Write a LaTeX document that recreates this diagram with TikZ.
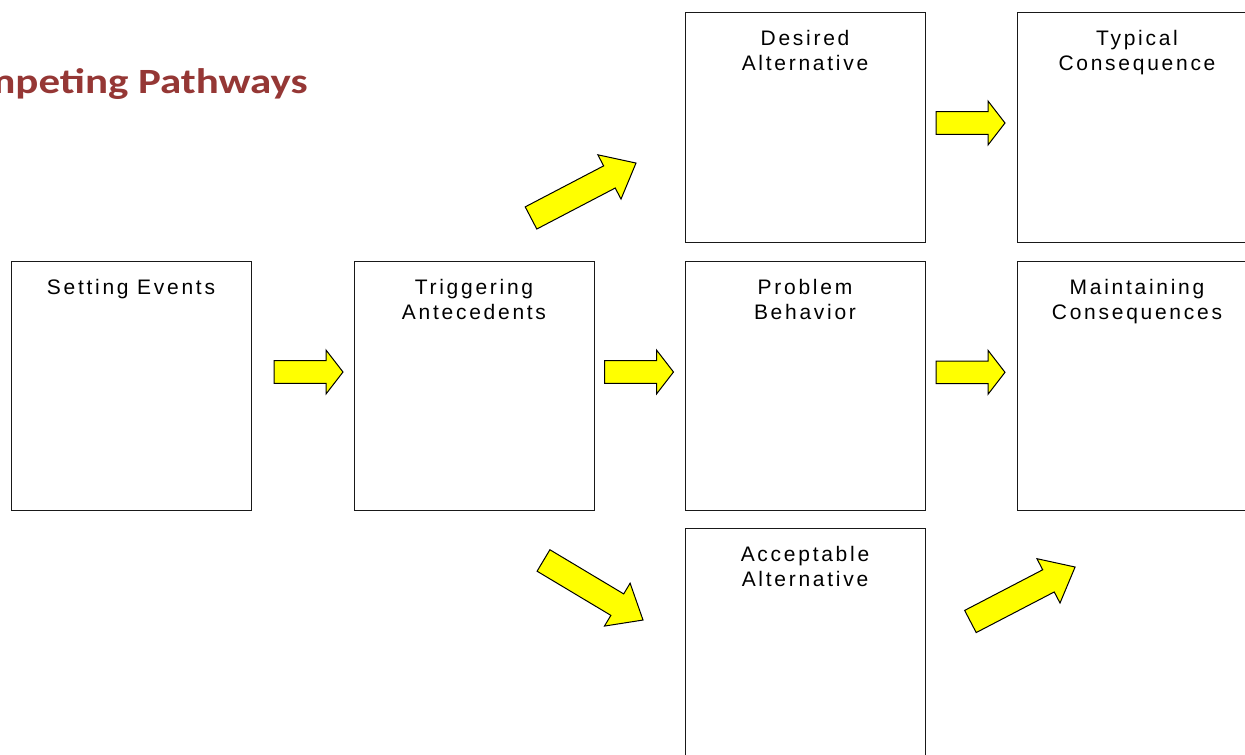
\documentclass[tikz,border=0pt]{standalone}
\usepackage{fontspec}
\setmainfont{Liberation Sans}
\newfontfamily\titlefont{Carlito}
\newfontfamily\boxfont[LetterSpace=13]{Liberation Sans}
\definecolor{titlered}{HTML}{953735}
\definecolor{arrowyellow}{HTML}{FFFF00}
\tikzset{
  box/.style={draw=black!90, line width=0.9pt, fill=white, inner sep=0pt, minimum width=240pt},
  lbl/.style={font=\boxfont\fontsize{21}{25}\selectfont, align=center, inner sep=0pt, anchor=north},
  blockarrow/.style={draw=black, line width=1pt, fill=arrowyellow, line join=miter},
}
\newcommand\blockarr[7]{%
  \draw[blockarrow, shift={(#1,#2)}, rotate=#3]
    ({-#4/2},{-#5}) -- ({#4/2-#7},{-#5}) -- ({#4/2-#7},{-#6}) -- ({#4/2},0)
    -- ({#4/2-#7},{#6}) -- ({#4/2-#7},{#5}) -- ({-#4/2},{#5}) -- cycle;}
\begin{document}
\begin{tikzpicture}[x=1pt,y=-1pt]
\useasboundingbox (0,0) rectangle (1245,755);
\clip (0,0) rectangle (1245,755);

% title
\node[font=\titlefont\bfseries\fontsize{35.5}{40}\selectfont, text=titlered,
      anchor=base east, inner sep=0pt, transform shape, xscale=1.21] (title) at (308,93) {Competing Pathways};

% boxes
\node[box, minimum height=249pt] (se) at (131,385.5) {};
\node[box, minimum height=249pt] (ta) at (474,385.5) {};
\node[box, minimum height=249pt] (pb) at (805,385.5) {};
\node[box, minimum height=249pt] (mc) at (1137,385.5) {};
\node[box, minimum height=230pt] (da) at (805,127) {};
\node[box, minimum height=230pt] (tc) at (1137,127) {};
\node[box, minimum height=242pt] (aa) at (805,649) {};

% labels
\node[lbl] (se-t) at ([yshift=-19pt]se.north) {Setting Events};
\node[lbl] (ta-t) at ([yshift=-19pt]ta.north) {Triggering\\Antecedents};
\node[lbl] (pb-t) at ([yshift=-19pt]pb.north) {Problem\\Behavior};
\node[lbl] (mc-t) at ([yshift=-19pt]mc.north) {Maintaining\\Consequences};
\node[lbl] (da-t) at ([yshift=-19pt]da.north) {Desired\\Alternative};
\node[lbl] (tc-t) at ([yshift=-19pt]tc.north) {Typical\\Consequence};
\node[lbl] (aa-t) at ([yshift=-19pt]aa.north) {Acceptable\\Alternative};

% block arrows
\blockarr{308.5}{372}{0}{69}{11.3}{22}{17}
\blockarr{639}{372}{0}{69}{11.3}{22}{17}
\blockarr{970.5}{372.3}{0}{69}{11.3}{22}{17}
\blockarr{970.5}{123}{0}{69}{11.3}{22}{17}
\blockarr{583.5}{190.5}{27.6}{118.5}{12.5}{25}{30}
\blockarr{593.25}{590.25}{-30.9}{116}{12.5}{25}{30}
\blockarr{1022.75}{594.25}{27.5}{118}{12.5}{25}{30}
\end{tikzpicture}
\end{document}
